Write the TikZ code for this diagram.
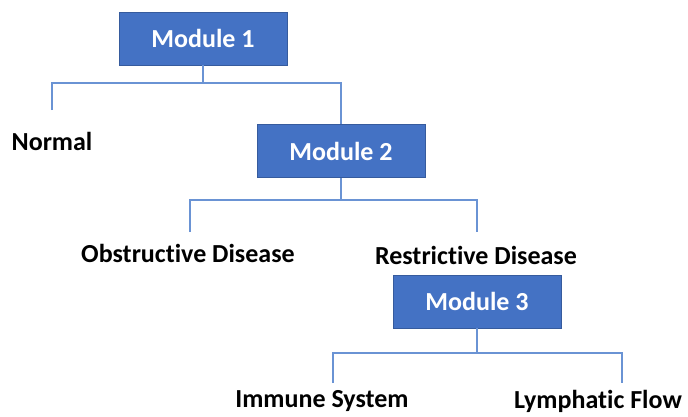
\documentclass[tikz,border=0pt]{standalone}
\usepackage{fontspec}
\setmainfont{Carlito}[Ligatures=NoCommon]
\definecolor{boxblue}{HTML}{4472C4}
\definecolor{lineblue}{HTML}{6A93D4}

\begin{document}
\begin{tikzpicture}[x=1pt, y=-1pt,
    module/.style={rectangle, fill=boxblue, draw=boxblue!80!black, line width=0.6pt, text=white, minimum width=168pt, minimum height=53pt, inner sep=0pt, font=\bfseries\fontsize{26}{30}\selectfont},
    leaf/.style={text=black, inner sep=0pt, font=\bfseries\fontsize{26}{30}\selectfont},
    link/.style={draw=lineblue, line width=1.4pt}
]
    \useasboundingbox (0,0) rectangle (688,416);

    % Module boxes
    \node[module] (m1) at (203,38.5) {Module 1};
    \node[module] (m2) at (341,151) {Module 2};
    \node[module] (m3) at (477,301.5) {Module 3};

    % Outcome labels
    \node[leaf] (normal) at (52,141) {Normal};
    \node[leaf] (obst) at (188,253) {Obstructive Disease};
    \node[leaf] (restr) at (476,255) {Restrictive Disease};
    \node[leaf] (immune) at (322,401) {Immune System};
    \node[leaf] (lymph) at (598,401) {Lymphatic Flow};

    % Branch points and line ends
    \coordinate (b1) at (203,83);
    \coordinate (b2) at (341,200);
    \coordinate (b3) at (477,353);
    \coordinate (normal-top) at (52,110);
    \coordinate (obst-top) at (190,232);
    \coordinate (restr-top) at (477,232);
    \coordinate (immune-top) at (333,383);
    \coordinate (lymph-top) at (622,383);

    % Tree lines
    \draw[link] (m1.south) -- (b1);
    \draw[link] (normal-top) |- (b1) -| (m2.north);
    \draw[link] (m2.south) -- (b2);
    \draw[link] (obst-top) |- (b2) -| (restr-top);
    \draw[link] (m3.south) -- (b3);
    \draw[link] (immune-top) |- (b3) -| (lymph-top);
\end{tikzpicture}
\end{document}
